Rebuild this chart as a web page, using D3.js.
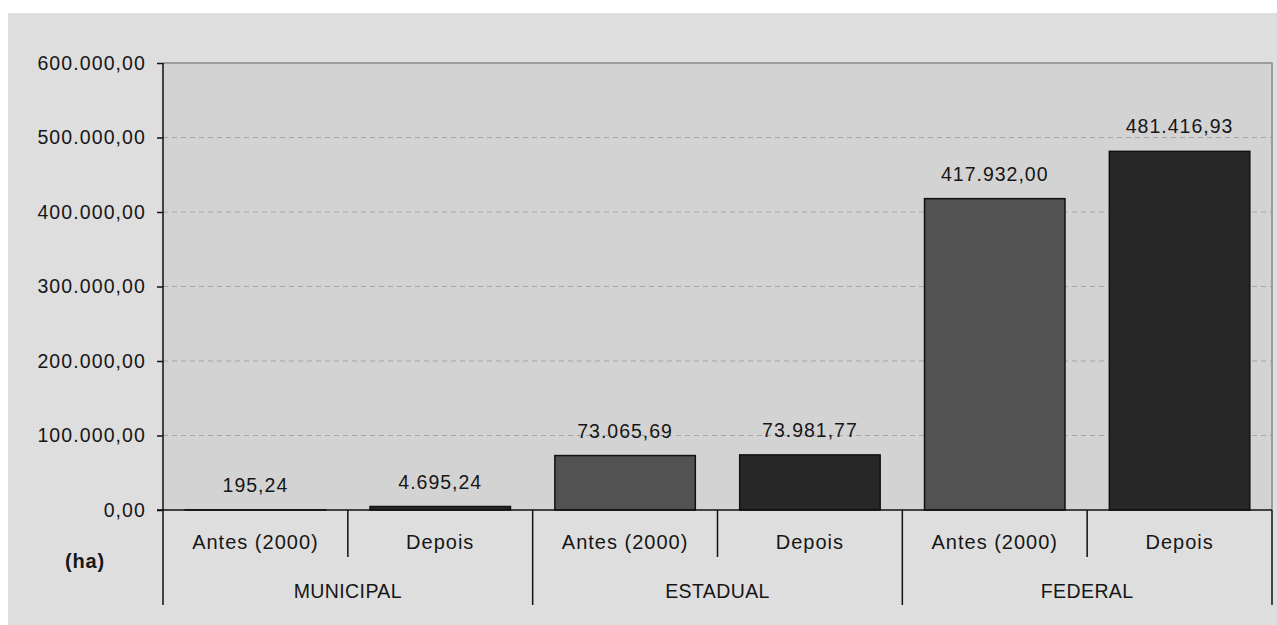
<!DOCTYPE html>
<html>
<head>
<meta charset="utf-8">
<script src="https://cdn.jsdelivr.net/npm/d3@7"></script>
<style>
  html, body { margin: 0; padding: 0; background: #ffffff; }
  svg { display: block; }
  text { font-family: "Liberation Sans", Arial, sans-serif; fill: #161616; }
</style>
</head>
<body>
<svg id="chart" width="1277" height="625"></svg>
<script>
// ---- data ----
const groups = ["MUNICIPAL", "ESTADUAL", "FEDERAL"];
const periods = ["Antes (2000)", "Depois"];
const values = [195.24, 4695.24, 73065.69, 73981.77, 417932.00, 481416.93];
const yTicks = [0, 100000, 200000, 300000, 400000, 500000, 600000];
const unitLabel = "(ha)";
const barColors = ["#525252", "#272727"];

// ---- layout ----
const W = 1277, H = 625;
const plot = { left: 163, top: 63, right: 1272, bottom: 510 };

const svg = d3.select("#chart");

// number format pt-BR
const fmt = d3.formatLocale({ decimal: ",", thousands: ".", grouping: [3], currency: ["R$", ""] }).format(",.2f");

// items
const items = [];
groups.forEach((g, gi) => periods.forEach((p, pi) => {
  items.push({ key: g + "|" + p, group: g, period: p, pi: pi, value: values[gi * periods.length + pi] });
}));

const x = d3.scaleBand()
  .domain(items.map(d => d.key))
  .range([plot.left, plot.right])
  .paddingInner(0.24)
  .paddingOuter(0.12);

const y = d3.scaleLinear().domain([0, 600000]).range([plot.bottom, plot.top]);

// outer background
svg.append("rect").attr("x", 8).attr("y", 13).attr("width", W - 8).attr("height", H - 13).attr("fill", "#dedede");

// plot area
svg.append("rect")
  .attr("x", plot.left).attr("y", plot.top)
  .attr("width", plot.right - plot.left).attr("height", plot.bottom - plot.top)
  .attr("fill", "#d3d3d3");

// gridlines
svg.append("g").selectAll("line")
  .data(yTicks.filter(t => t > 0 && t < 600000))
  .join("line")
  .attr("x1", plot.left).attr("x2", plot.right)
  .attr("y1", d => y(d)).attr("y2", d => y(d))
  .attr("stroke", "#a6a6a6").attr("stroke-width", 1)
  .attr("stroke-dasharray", "5,4");

// top & right border
svg.append("path")
  .attr("d", `M${plot.left},${plot.top}H${plot.right}V${plot.bottom}`)
  .attr("fill", "none").attr("stroke", "#8a8a8a").attr("stroke-width", 1.5);

// bars
svg.append("g").selectAll("rect")
  .data(items)
  .join("rect")
  .attr("x", d => x(d.key))
  .attr("width", x.bandwidth())
  .attr("y", d => y(d.value))
  .attr("height", d => y(0) - y(d.value))
  .attr("fill", d => barColors[d.pi])
  .attr("stroke", "#111")
  .attr("stroke-width", 1.5);

// value labels
svg.append("g").selectAll("text")
  .data(items)
  .join("text")
  .attr("x", d => x(d.key) + x.bandwidth() / 2)
  .attr("y", d => y(d.value) - 18)
  .attr("text-anchor", "middle")
  .attr("font-size", 19.5)
  .attr("letter-spacing", 1.0)
  .text(d => fmt(d.value));

// y axis
const yAxis = d3.axisLeft(y).tickValues(yTicks).tickSize(6).tickPadding(11).tickFormat(fmt);
const ya = svg.append("g").attr("transform", `translate(${plot.left},0)`).call(yAxis);
ya.select(".domain").remove();
ya.selectAll(".tick line").attr("stroke", "#111").attr("stroke-width", 1.5);
ya.selectAll(".tick text").attr("font-size", 19.5).attr("letter-spacing", 1.1)
  .attr("font-family", '"Liberation Sans", Arial, sans-serif').attr("fill", "#161616");
svg.append("line").attr("x1", plot.left).attr("x2", plot.left)
  .attr("y1", plot.top).attr("y2", plot.bottom).attr("stroke", "#111").attr("stroke-width", 1.5);

// x axis baseline
svg.append("line").attr("x1", plot.left - 6).attr("x2", plot.right)
  .attr("y1", plot.bottom).attr("y2", plot.bottom).attr("stroke", "#111").attr("stroke-width", 1.5);

// band boundaries
const step = x.step();
const boundaries = d3.range(items.length + 1).map(i => plot.left + i * step);
svg.append("g").selectAll("line")
  .data(boundaries.map((b, i) => ({ b, i })))
  .join("line")
  .attr("x1", d => d.b).attr("x2", d => d.b)
  .attr("y1", plot.bottom)
  .attr("y2", d => d.i % periods.length === 0 ? 605 : 557)
  .attr("stroke", "#111").attr("stroke-width", 1.5);

// period labels
svg.append("g").selectAll("text")
  .data(items)
  .join("text")
  .attr("x", d => x(d.key) + x.bandwidth() / 2)
  .attr("y", 549)
  .attr("text-anchor", "middle")
  .attr("font-size", 20)
  .attr("letter-spacing", 1.0)
  .text(d => d.period);

// group labels
svg.append("g").selectAll("text")
  .data(groups)
  .join("text")
  .attr("x", (d, i) => (boundaries[i * 2] + boundaries[i * 2 + 2]) / 2)
  .attr("y", 598)
  .attr("text-anchor", "middle")
  .attr("font-size", 19.5)
  .attr("letter-spacing", 0.4)
  .text(d => d);

// unit label
svg.append("text")
  .attr("x", 85).attr("y", 568)
  .attr("text-anchor", "middle")
  .attr("font-size", 20)
  .attr("font-weight", "bold")
  .attr("letter-spacing", 0.8)
  .text(unitLabel);
</script>
</body>
</html>
